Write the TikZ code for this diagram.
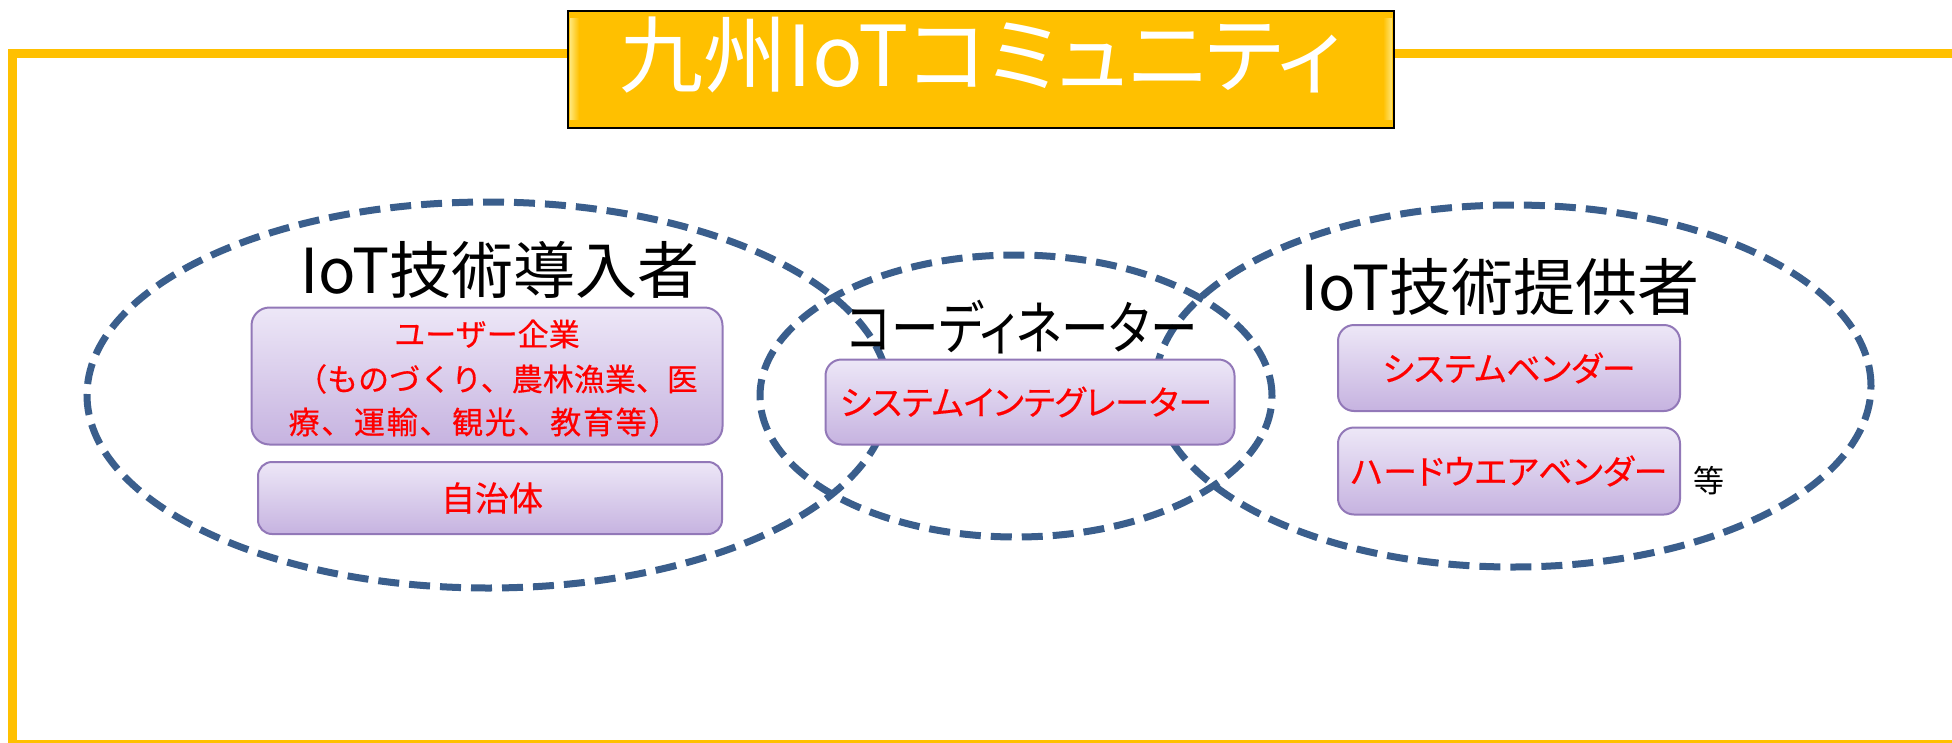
\documentclass[tikz,border=0pt]{standalone}
\usepackage{fontspec}
\newfontfamily\jp[RawFeature=+palt]{Noto Sans CJK JP}
\newfontfamily\jpred[RawFeature=+palt, FakeBold=0.4]{Noto Sans CJK JP}
\newfontfamily\jpfull[FakeBold=0.4]{Noto Sans CJK JP}
\newfontfamily\jpspaced[LetterSpace=5.5, FakeBold=0.4]{Noto Sans CJK JP}
\newfontfamily\jpnarrow[RawFeature=+palt, FakeStretch=0.82]{Noto Sans CJK JP}
\definecolor{gold}{HTML}{FFC000}
\definecolor{goldlight}{HTML}{FFF3A0}
\definecolor{dashblue}{HTML}{3A5E8C}
\definecolor{boxline}{HTML}{9278B8}
\definecolor{boxtop}{HTML}{EDE7F7}
\definecolor{boxbot}{HTML}{C6B3E0}
\definecolor{redtext}{HTML}{FF0000}
\tikzset{
  dashline/.style={draw=dashblue, line width=7pt, dash pattern=on 21pt off 10pt},
  pbox/.style={draw=boxline, line width=2pt, rounded corners=18pt, top color=boxtop, bottom color=boxbot, inner sep=0pt},
  redlbl/.style={font=\jpred\fontsize{34}{40}\selectfont, text=redtext, inner sep=0pt},
  redfull/.style={font=\jpfull\fontsize{31}{36}\selectfont, text=redtext, inner sep=0pt},
  biglbl/.style={font=\jp\fontsize{62}{70}\selectfont, text=black, inner sep=0pt},
}
\begin{document}
\begin{tikzpicture}[x=1pt,y=-1pt]
\useasboundingbox (0,0) rectangle (1952,742);
\clip (0,0) rectangle (1952,742);
\fill[white] (0,0) rectangle (1952,742);
% outer frame
\draw[gold, line width=9pt] (12,53) rectangle (1975,744);
% ellipses
\draw[dashline] (488,395) ellipse [x radius=401pt, y radius=193pt];
\draw[dashline] (1016,396) ellipse [x radius=256pt, y radius=141pt];
\draw[dashline] (1513,386) ellipse [x radius=358pt, y radius=181pt];
% boxes
\node[pbox, minimum width=471pt, minimum height=137pt] (user) at (487,376) {};
\node[pbox, minimum width=464pt, minimum height=72pt, rounded corners=14pt] (jichi) at (490,498) {};
\node[pbox, minimum width=409pt, minimum height=85pt, rounded corners=16pt] (si) at (1030,402) {};
\node[pbox, minimum width=342pt, minimum height=86pt, rounded corners=16pt] (sv) at (1509,368) {};
\node[pbox, minimum width=342pt, minimum height=87pt, rounded corners=16pt] (hv) at (1509,471) {};
% red texts
\node[redfull] (u1) at (487,334) {ユーザー企業};
\node[redfull] (u2) at (497,379) {（ものづくり、農林漁業、医};
\node[redfull, font=\jpspaced\fontsize{31}{36}\selectfont] (u3) at (484,422) {療、運輸、観光、教育等）};
\node[redlbl] (j1) at (492,498) {自治体};
\node[redlbl] (s1) at (1026,402) {システムインテグレーター};
\node[redlbl] (v1) at (1509,368) {システムベンダー};
\node[redlbl] (v2) at (1509,471) {ハードウエアベンダー};
\node[font=\jp\fontsize{31}{34}\selectfont, inner sep=0pt] (etc) at (1709,481) {等};
% black labels
\node[biglbl] (l1) at (500,270) {IoT技術導入者};
\node[font=\jpnarrow\fontsize{58}{64}\selectfont, inner sep=0pt] (l2) at (1022,327) {コーディネーター};
\node[biglbl] (l3) at (1500,287) {IoT技術提供者};
% title
\node[draw=black, line width=2pt, fill=gold, minimum width=826pt, minimum height=117pt, inner sep=0pt] (title) at (981,69.5) {};
\fill[left color=goldlight, right color=gold] (title.north west) ++(3,8) rectangle ++(9,101);
\fill[right color=goldlight, left color=gold] (title.north east) ++(-3,8) rectangle ++(-9,101);
\node[font=\jp\fontsize{84}{88}\selectfont, text=white, inner sep=0pt] (ttext) at (981,55) {九州IoTコミュニティ};
\end{tikzpicture}
\end{document}
